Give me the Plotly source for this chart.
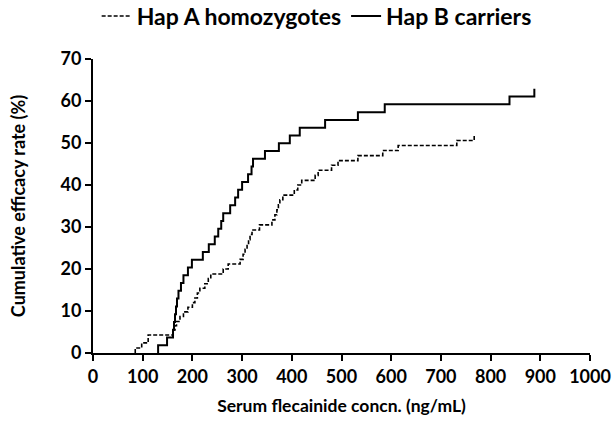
import plotly.graph_objects as go

# Hap A homozygotes (dashed): event concentrations and cumulative efficacy after each event
hapA_conc = [85, 98, 111, 161, 165, 168, 175, 182, 191, 200, 205, 210, 215, 225, 232, 237,
             262, 272, 296, 302, 306, 310, 313, 316, 320, 335, 360, 366, 370, 373, 376, 382,
             405, 412, 420, 447, 453, 480, 493, 533, 583, 614, 732, 767]
hapA_rate = [1.2, 2.4, 4.3, 5.5, 6.5, 7.5, 8.7, 9.8, 10.9, 12.0, 13.1, 14.3, 15.4, 16.5, 17.7, 18.8,
             20.0, 21.2, 22.3, 23.5, 24.7, 25.8, 27.0, 28.2, 29.3, 30.5, 31.7, 32.9, 34.1, 35.3, 36.5, 37.6,
             38.8, 40.0, 41.1, 42.3, 43.5, 44.7, 45.8, 47.0, 48.2, 49.4, 50.6, 51.8]
hapA_end = 770

# Hap B carriers (solid)
hapB_conc = [131, 149, 161, 163, 165, 167, 169, 172, 177, 182, 191, 199, 221, 233, 245, 252,
             258, 262, 276, 286, 292, 300, 312, 319, 322, 346, 374, 396, 416, 467, 533, 587, 838, 888]
hapB_rate = [1.85, 3.7, 5.55, 7.4, 9.25, 11.1, 12.95, 14.8, 16.65, 18.5, 20.35, 22.2, 24.05, 25.9,
             27.75, 29.6, 31.45, 33.3, 35.15, 37.0, 38.85, 40.7, 42.55, 44.4, 46.25, 48.1, 49.95,
             51.8, 53.65, 55.5, 57.35, 59.2, 61.05, 62.9]
hapB_end = 888

x_ticks = list(range(0, 1001, 100))
y_ticks = list(range(0, 71, 10))


def step_xy(conc, rate, end):
    xs = [conc[0]] + list(conc) + [end]
    ys = [0] + list(rate) + [rate[-1]]
    return xs, ys


FONT = "Lato, 'Open Sans', sans-serif"

fig = go.Figure()
ax, ay = step_xy(hapA_conc, hapA_rate, hapA_end)
bx, by = step_xy(hapB_conc, hapB_rate, hapB_end)
fig.add_trace(go.Scatter(x=ax, y=ay, mode="lines", line_shape="hv", name="Hap A homozygotes",
                         line=dict(color="black", width=1.6, dash="4px,2px")))
fig.add_trace(go.Scatter(x=bx, y=by, mode="lines", line_shape="hv", name="Hap B carriers",
                         line=dict(color="black", width=2)))

axis_common = dict(showgrid=False, zeroline=False, showline=True, linecolor="black", linewidth=2,
                   ticks="outside", ticklen=6, tickwidth=2, tickcolor="black", automargin=False,
                   tickfont=dict(family=FONT, size=18, color="black", weight="bold"))

fig.update_layout(
    width=615, height=428,
    margin=dict(l=93, r=25, t=59, b=75),
    paper_bgcolor="white", plot_bgcolor="white",
    font=dict(family=FONT, color="black"),
    showlegend=True,
    legend=dict(orientation="h", x=0.45, xanchor="center", xref="paper",
                y=1 - 16 / 428, yanchor="middle", yref="container",
                font=dict(family=FONT, size=23, color="black", weight="bold"),
                itemwidth=30, tracegroupgap=0, bgcolor="rgba(0,0,0,0)"),
    xaxis=dict(range=[0, 1000], tickvals=x_ticks, **axis_common,
               title=dict(text="Serum flecainide concn. (ng/mL)", standoff=14,
                          font=dict(family=FONT, size=17.5, color="black", weight="bold"))),
    yaxis=dict(range=[0, 70], tickvals=y_ticks, **axis_common,
               title=dict(text="Cumulative efficacy rate (%)", standoff=30,
                          font=dict(family=FONT, size=18, color="black", weight="bold"))),
)

fig.write_html("out.html")
